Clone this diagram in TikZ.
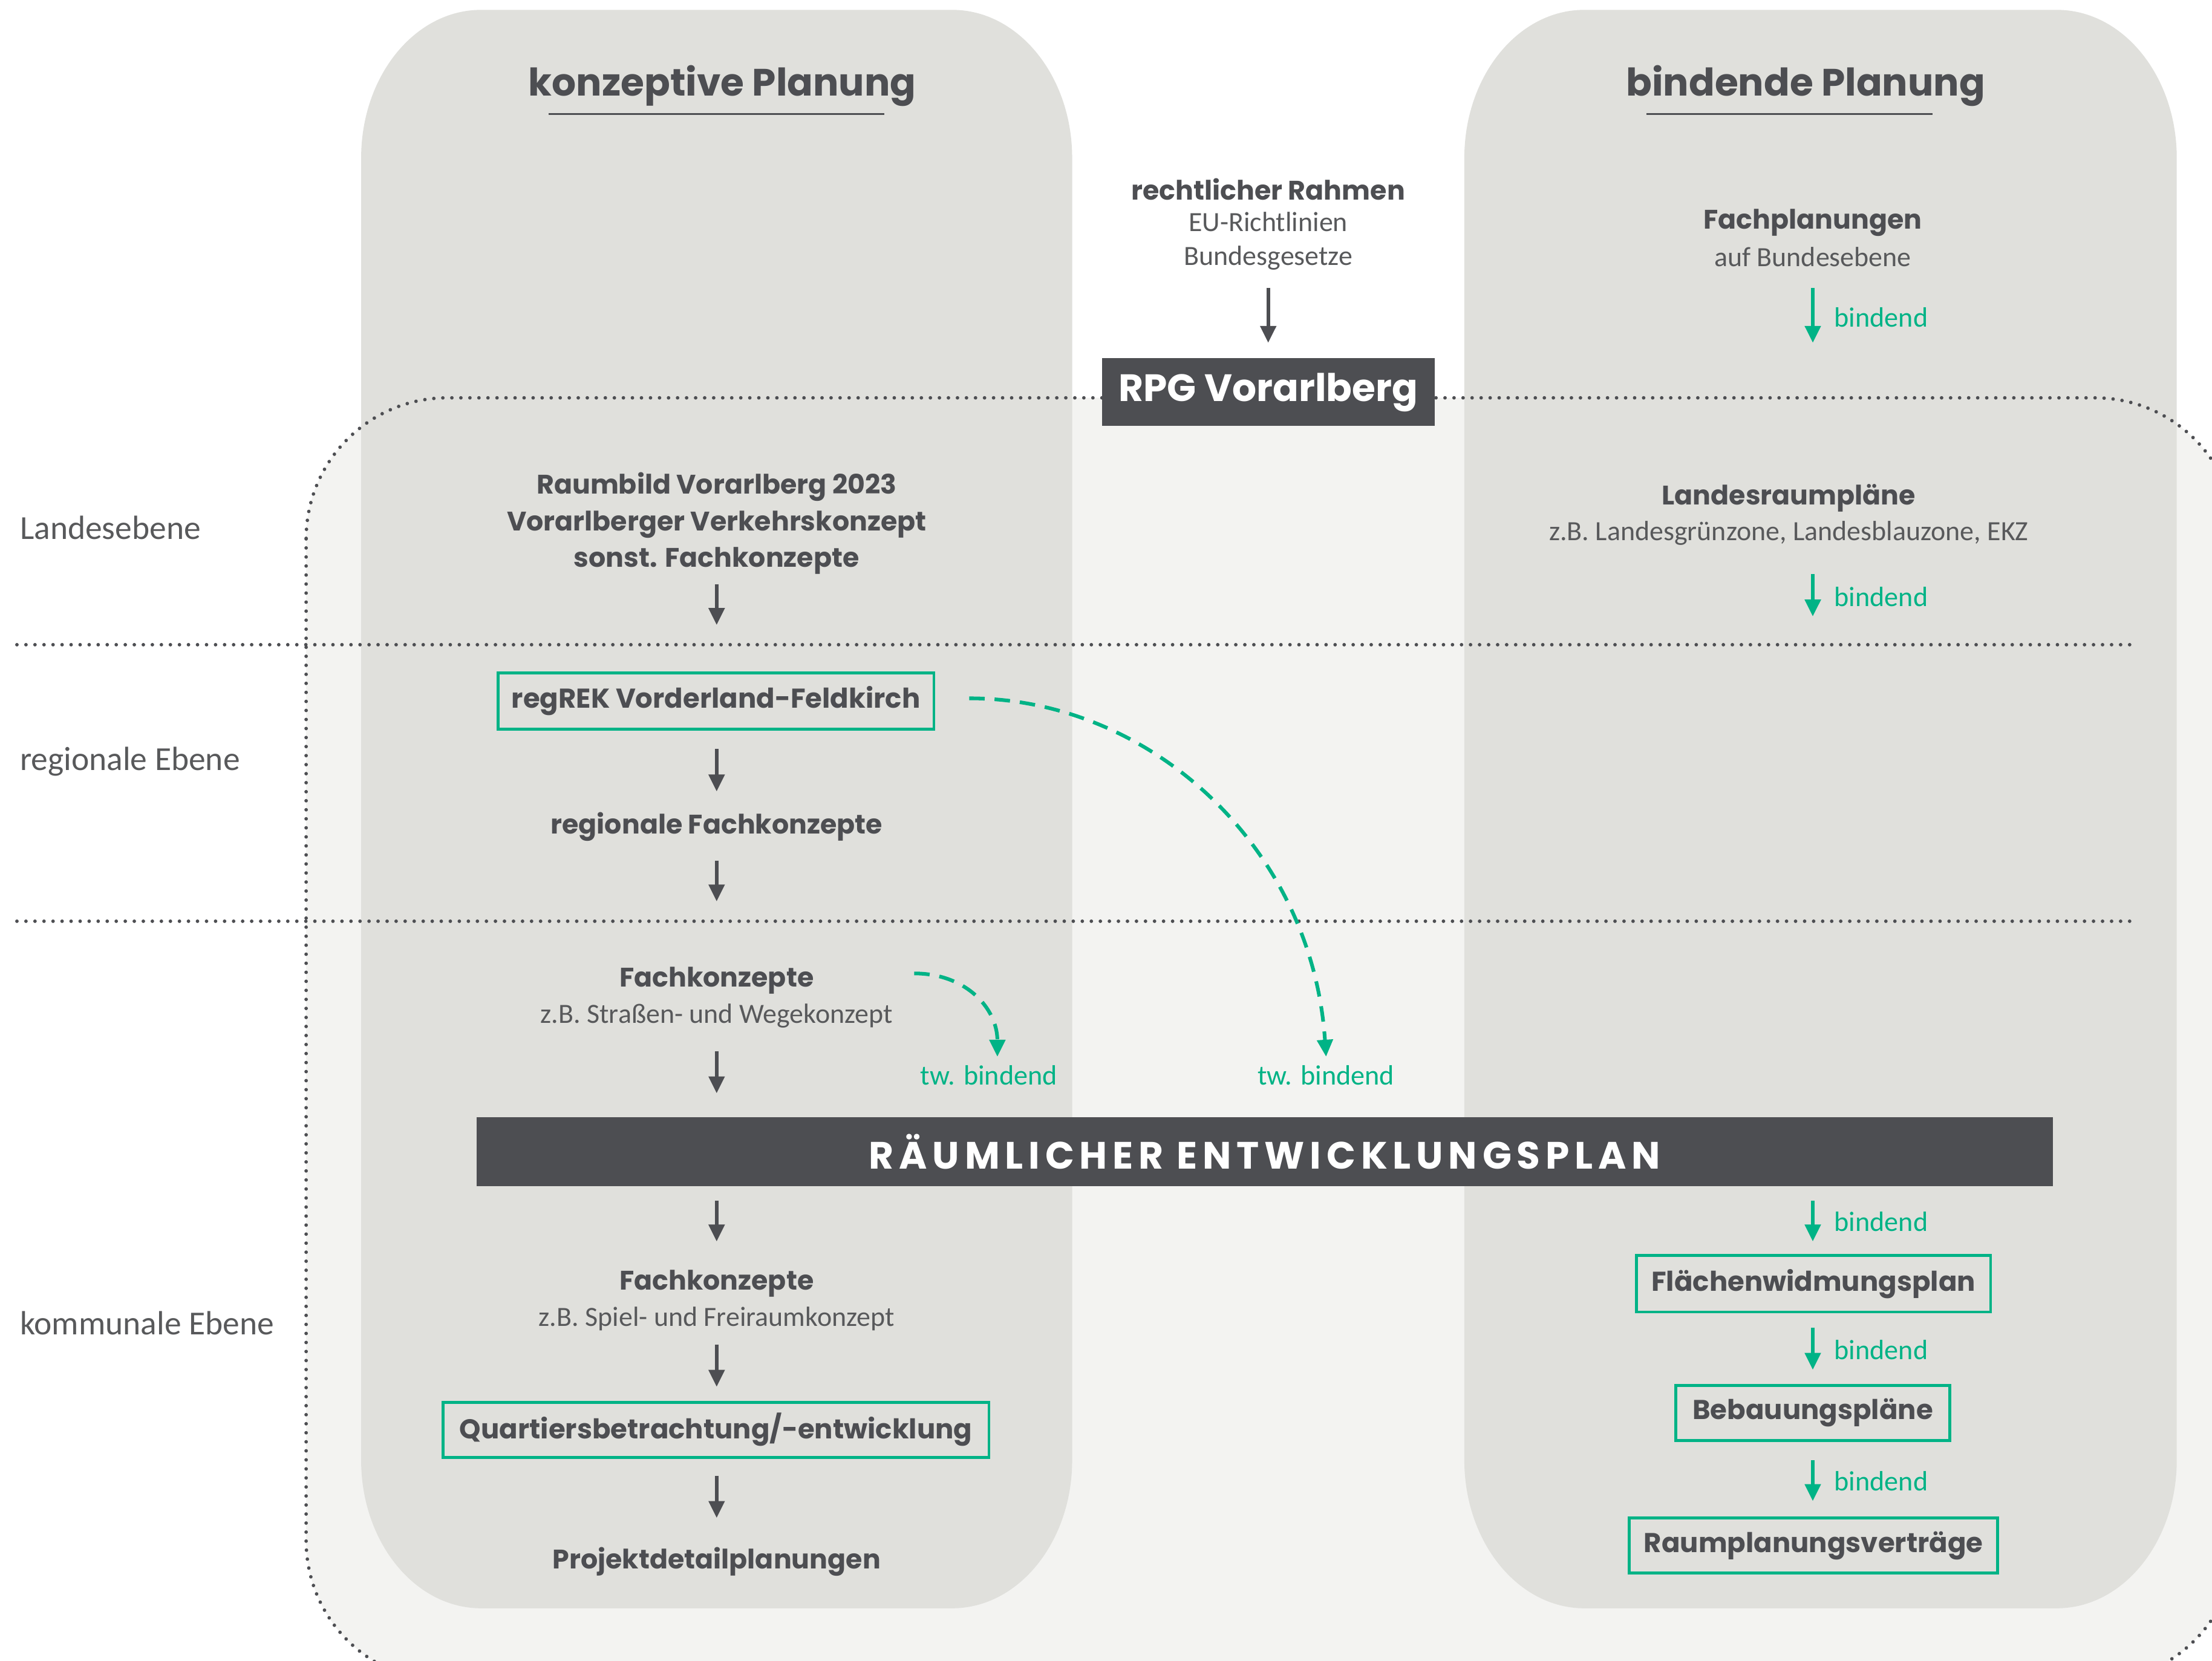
\documentclass[tikz,border=0pt]{standalone}
\usepackage{fontspec}
\setmainfont{Carlito}
\newfontfamily\pop{Poppins}
\usetikzlibrary{arrows.meta}
\definecolor{dk}{HTML}{4D4E52}
\definecolor{gr}{HTML}{00B386}
\definecolor{colg}{HTML}{E0E0DC}
\definecolor{outg}{HTML}{F3F3F1}
\definecolor{ltx}{HTML}{58595B}
\tikzset{
  erect/.style n args={6}{insert path={
    ({#1+#5},#2) -- ({#3-#5},#2)
    .. controls ({#3-#5+0.5523*#5},#2) and (#3,{#2+#6-0.5523*#6}) .. (#3,{#2+#6})
    -- (#3,{#4-#6})
    .. controls (#3,{#4-#6+0.5523*#6}) and ({#3-#5+0.5523*#5},#4) .. ({#3-#5},#4)
    -- ({#1+#5},#4)
    .. controls ({#1+#5-0.5523*#5},#4) and (#1,{#4-#6+0.5523*#6}) .. (#1,{#4-#6})
    -- (#1,{#2+#6})
    .. controls (#1,{#2+#6-0.5523*#6}) and ({#1+#5-0.5523*#5},#2) .. ({#1+#5},#2) -- cycle}},
  bt/.style={font=\pop\bfseries\fontsize{19}{26}\selectfont, text=dk, align=center, inner sep=0pt},
  ttl/.style={font=\pop\bfseries\fontsize{27}{30}\selectfont, text=dk, inner sep=0pt},
  lt/.style={font=\fontsize{19.7}{24}\selectfont, text=ltx, align=center, inner sep=0pt},
  lvl/.style={font=\fontsize{23.8}{26}\selectfont, text=ltx, anchor=west, inner sep=0pt},
  gl/.style={font=\fontsize{19.8}{24}\selectfont, text=gr, inner sep=0pt},
  gbox/.style={draw=gr, line width=2pt, inner sep=0pt, font=\pop\bfseries\fontsize{19.3}{22}\selectfont, text=dk},
  darkbox/.style={fill=dk, inner sep=0pt, text=white},
  darr/.style={draw=dk, line width=2.6pt, -{Triangle[length=12pt,width=11pt]}},
  garr/.style={draw=gr, line width=2.6pt, -{Triangle[length=12pt,width=11pt]}},
  gdash/.style={draw=gr, line width=2.6pt, dash pattern=on 11pt off 7pt, -{Triangle[length=12pt,width=11pt]}},
  dotl/.style={draw=dk, line width=2.5pt, dash pattern=on 0pt off 6.4pt, line cap=round},
}
\begin{document}
\begin{tikzpicture}[x=1pt,y=-1pt]
\useasboundingbox (0,0) rectangle (1568,1177);
\clip (0,0) rectangle (1568,1177);
\fill[white] (0,0) rectangle (1568,1177);
% outer region
\fill[outg, rounded corners=100pt] (217,282) rectangle (1585,1192);
% columns
\fill[colg, erect={256}{7}{760}{1140}{85}{105}];
\fill[colg, erect={1038}{7}{1543}{1140}{85}{105}];
% outer dotted border
\draw[dotl, rounded corners=100pt] (217,282) rectangle (1585,1192);
% level lines
\draw[dotl] (12,457) coordinate (l1a) -- (1512,457) coordinate (l1b);
\draw[dotl] (12,653) coordinate (l2a) -- (1512,653) coordinate (l2b);

% titles
\node[ttl] (t1) at (512,61) {konzeptive Planung};
\draw[dk, line width=1.3pt] (389,81) coordinate (u1a) -- (627,81) coordinate (u1b);
\node[ttl] (t2) at (1280,61) {bindende Planung};
\draw[dk, line width=1.3pt] (1167,81) coordinate (u2a) -- (1370,81) coordinate (u2b);

% level labels
\node[lvl] (le1) at (14,374) {Landesebene};
\node[lvl] (le2) at (14,540) {regionale Ebene};
\node[lvl] (le3) at (14,938) {kommunale Ebene};

% center top
\node[bt] (rahmen) at (899,134) {rechtlicher Rahmen};
\node[lt] (rahmensub) at (899,171) {EU-Richtlinien\\Bundesgesetze};
\node[darkbox, minimum width=236pt, minimum height=48pt, font=\pop\bfseries\fontsize{27}{30}\selectfont] (rpg) at (899,278) {RPG Vorarlberg};

% right top
\node[bt] (fachpl) at (1285,158) {Fachplanungen};
\node[lt] (fachplsub) at (1285,182) {auf Bundesebene};
\node[bt] (lrp) at (1268,353) {Landesraumpläne};
\node[lt] (lrpsub) at (1268,378) {z.B. Landesgrünzone, Landesblauzone, EKZ};

% left column
\node[bt] (raum) at (508,371) {Raumbild Vorarlberg 2023\\Vorarlberger Verkehrskonzept\\sonst. Fachkonzepte};
\node[gbox, minimum width=309pt, minimum height=40pt] (regrek) at (507.5,497) {regREK Vorderland-Feldkirch};
\node[bt] (regfk) at (508,586) {regionale Fachkonzepte};
\node[bt] (fk1) at (508,695) {Fachkonzepte};
\node[lt] (fk1sub) at (508,720) {z.B. Straßen- und Wegekonzept};
\node[darkbox, minimum width=1117pt, minimum height=49pt, font=\pop\bfseries\fontsize{27}{30}\selectfont\addfontfeature{LetterSpace=14}] (rep) at (896.5,816.5) {RÄUMLICHER ENTWICKLUNGSPLAN};
\node[bt] (fk2) at (508,910) {Fachkonzepte};
\node[lt] (fk2sub) at (508,935) {z.B. Spiel- und Freiraumkonzept};
\node[gbox, minimum width=387pt, minimum height=39pt] (quart) at (507.5,1013.5) {Quartiersbetrachtung/-entwicklung};
\node[bt] (proj) at (508,1107) {Projektdetailplanungen};

% right column boxes
\node[gbox, minimum width=251pt, minimum height=40pt] (fwp) at (1285.5,910) {Flächenwidmungsplan};
\node[gbox, minimum width=194pt, minimum height=39pt] (bbp) at (1285,1001.5) {Bebauungspläne};
\node[gbox, minimum width=261pt, minimum height=39pt] (rpv) at (1285.5,1095.5) {Raumplanungsverträge};

% tw. bindend labels
\node[gl] (tw1) at (701,762) {tw. bindend};
\node[gl] (tw2) at (940,762) {tw. bindend};

% bindend labels
\node[gl, anchor=west] (b1) at (1300,225) {bindend};
\node[gl, anchor=west] (b2) at (1300,423) {bindend};
\node[gl, anchor=west] (b3) at (1300,866) {bindend};
\node[gl, anchor=west] (b4) at (1300,957) {bindend};
\node[gl, anchor=west] (b5) at (1300,1050) {bindend};

% dark arrows
\coordinate (a1s) at (899,204); \coordinate (a1e) at (899,243);
\draw[darr] (a1s) -- (a1e);
\coordinate (a2s) at (508,414); \coordinate (a2e) at (508,443);
\draw[darr] (a2s) -- (a2e);
\coordinate (a3s) at (508,531); \coordinate (a3e) at (508,561);
\draw[darr] (a3s) -- (a3e);
\coordinate (a4s) at (508,610); \coordinate (a4e) at (508,639);
\draw[darr] (a4s) -- (a4e);
\coordinate (a5s) at (508,745); \coordinate (a5e) at (508,775);
\draw[darr] (a5s) -- (a5e);
\coordinate (a6s) at (508,851); \coordinate (a6e) at (508,880);
\draw[darr] (a6s) -- (a6e);
\coordinate (a7s) at (508,953); \coordinate (a7e) at (508,983);
\draw[darr] (a7s) -- (a7e);
\coordinate (a8s) at (508,1046); \coordinate (a8e) at (508,1076);
\draw[darr] (a8s) -- (a8e);

% green arrows
\coordinate (g1s) at (1285,204); \coordinate (g1e) at (1285,243);
\draw[garr] (g1s) -- (g1e);
\coordinate (g2s) at (1285,407); \coordinate (g2e) at (1285,437);
\draw[garr] (g2s) -- (g2e);
\coordinate (g3s) at (1285,851); \coordinate (g3e) at (1285,880);
\draw[garr] (g3s) -- (g3e);
\coordinate (g4s) at (1285,941); \coordinate (g4e) at (1285,971);
\draw[garr] (g4s) -- (g4e);
\coordinate (g5s) at (1285,1035); \coordinate (g5e) at (1285,1064);
\draw[garr] (g5s) -- (g5e);

% dashed curves
\coordinate (d1s) at (687,495); \coordinate (d1e) at (940,749);
\draw[gdash] (d1s) .. controls (815,495) and (930,600) .. (d1e);
\coordinate (d2s) at (648,690); \coordinate (d2e) at (707,749);
\draw[gdash] (d2s) .. controls (685,690) and (707,715) .. (d2e);
\end{tikzpicture}
\end{document}
